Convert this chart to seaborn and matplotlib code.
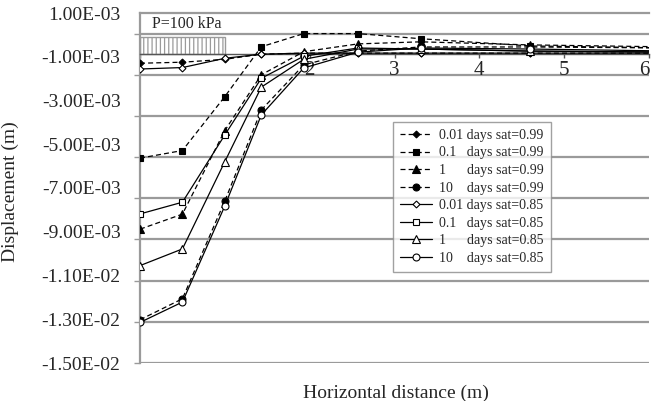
import numpy as np
import pandas as pd
import matplotlib
matplotlib.use("Agg")
import matplotlib.pyplot as plt
import seaborn as sns
from matplotlib.patches import Rectangle
from matplotlib.ticker import FuncFormatter, FixedLocator

# ---- data (displacement in m) ----
x_dist = [0.0, 0.5, 1.0, 1.43, 1.93, 2.57, 3.31, 4.6, 6.3]

d001_s099 = [-0.44e-3, -0.39e-3, -0.25e-3, 0.00e-3, 0.05e-3, 0.05e-3, 0.05e-3, 0.05e-3, 0.05e-3]
d01_s099 = [-5.05e-3, -4.68e-3, -2.06e-3, 0.36e-3, 1.00e-3, 1.00e-3, 0.75e-3, 0.40e-3, 0.30e-3]
d1_s099 = [-8.50e-3, -7.77e-3, -3.71e-3, -1.00e-3, 0.12e-3, 0.50e-3, 0.60e-3, 0.45e-3, 0.35e-3]
d10_s099 = [-12.90e-3, -11.88e-3, -7.13e-3, -2.71e-3, -0.52e-3, 0.15e-3, 0.35e-3, 0.35e-3, 0.30e-3]
d001_s085 = [-0.72e-3, -0.65e-3, -0.20e-3, 0.00e-3, 0.05e-3, 0.05e-3, 0.05e-3, 0.05e-3, 0.05e-3]
d01_s085 = [-7.76e-3, -7.19e-3, -3.92e-3, -1.17e-3, -0.10e-3, 0.30e-3, 0.25e-3, 0.15e-3, 0.10e-3]
d1_s085 = [-10.27e-3, -9.46e-3, -5.22e-3, -1.60e-3, -0.25e-3, 0.25e-3, 0.25e-3, 0.15e-3, 0.10e-3]
d10_s085 = [-13.03e-3, -12.04e-3, -7.37e-3, -2.95e-3, -0.67e-3, 0.10e-3, 0.30e-3, 0.25e-3, 0.15e-3]

series_labels = [
    "0.01 days sat=0.99", "0.1   days sat=0.99", "1      days sat=0.99", "10    days sat=0.99",
    "0.01 days sat=0.85", "0.1   days sat=0.85", "1      days sat=0.85", "10    days sat=0.85",
]
series_values = [d001_s099, d01_s099, d1_s099, d10_s099,
                 d001_s085, d01_s085, d1_s085, d10_s085]

y_ticks = [1e-3, -1e-3, -3e-3, -5e-3, -7e-3, -9e-3, -11e-3, -13e-3, -15e-3]
x_ticks = [0, 1, 2, 3, 4, 5, 6]
x_tick_labels = ["", "", "2", "3", "4", "5", "6"]

load_width = 1.0
load_height = 0.83e-3
load_text = "P=100 kPa"

# ---- styling ----
sns.set_style("white")
plt.rcParams['font.family'] = ['Liberation Serif', 'DejaVu Serif']
plt.rcParams['hatch.color'] = '#9a9a9a'
plt.rcParams['hatch.linewidth'] = 0.9

dash = (0, (4, 2.5))
styles = [
    dict(linestyle=dash, marker='D', mfc='black', ms=3.5),
    dict(linestyle=dash, marker='s', mfc='black', ms=5),
    dict(linestyle=dash, marker='^', mfc='black', ms=5.5),
    dict(linestyle=dash, marker='o', mfc='black', ms=5),
    dict(linestyle='-', marker='D', mfc='white', ms=3.5),
    dict(linestyle='-', marker='s', mfc='white', ms=5),
    dict(linestyle='-', marker='^', mfc='white', ms=5.5),
    dict(linestyle='-', marker='o', mfc='white', ms=5),
]

fig = plt.figure(figsize=(6.54, 4.01), dpi=100)
rect = [140 / 654, 38 / 401, 509 / 654, 350 / 401]

# axis that only carries the printed y tick labels (as placed in the reference)
ax_lab = fig.add_axes(rect, zorder=0)
ax_lab.set_ylim(-0.015, 0.001)
ax_lab.set_xlim(0, 1)
ax_lab.patch.set_visible(False)
for s in ax_lab.spines.values():
    s.set_visible(False)
ax_lab.set_xticks([])
ax_lab.yaxis.set_major_locator(FixedLocator(y_ticks))
ax_lab.yaxis.set_major_formatter(FuncFormatter(lambda v, p: f"{v:.2E}"))
ax_lab.tick_params(axis='y', length=0, labelsize=14, pad=14)

ax = fig.add_axes(rect, zorder=1)
ax.patch.set_visible(False)

grid_c = '#9a9a9a'
for yv in y_ticks:
    ax.axhline(yv, color=grid_c, lw=1.6, zorder=0)

for lab, vals, st in zip(series_labels, series_values, styles):
    df = pd.DataFrame({"x": x_dist, "y": vals})
    sns.lineplot(data=df, x="x", y="y", ax=ax, color='black', lw=0.9,
                 linestyle=st['linestyle'], marker=st['marker'],
                 markerfacecolor=st['mfc'], markeredgecolor='black',
                 markeredgewidth=0.8, markersize=st['ms'], label=lab,
                 zorder=3, clip_on=True)

# load box
ax.add_patch(Rectangle((0, 0), load_width, load_height, facecolor='white',
                       edgecolor='#9a9a9a', hatch='||||', lw=1.0, zorder=1))
ax.text(0.14, 1.47e-3, load_text, fontsize=11.5, va='center', ha='left')

ax.set_xlim(0, 6)
ax.set_ylim(-0.015, 0.002)

ax.yaxis.set_major_locator(FixedLocator(y_ticks))
ax.yaxis.set_major_formatter(FuncFormatter(lambda v, p: ""))
ax.set_xticks(x_ticks)
ax.set_xticklabels(x_tick_labels)

ax.spines['right'].set_visible(False)
ax.spines['bottom'].set_position(('data', 0))
ax.spines['bottom'].set_color('#555555')
ax.spines['bottom'].set_linewidth(1.0)
ax.spines['left'].set_color(grid_c)
ax.spines['left'].set_linewidth(1.6)
ax.spines['top'].set_color(grid_c)
ax.spines['top'].set_linewidth(1.6)

ax.tick_params(axis='y', direction='out', length=4, width=1, color=grid_c,
               labelsize=14, left=True)
ax.tick_params(axis='x', direction='out', length=3, width=1, color='#555555',
               labelsize=15, pad=2, bottom=True)

ax.set_xlabel("Horizontal distance (m)", fontsize=14)
ax.set_ylabel("Displacement (m)", fontsize=14)
ax.xaxis.set_label_coords(0.503, -0.063)
ax.yaxis.set_label_coords(-0.238, 0.49)

leg = ax.legend(loc='upper left', bbox_to_anchor=(0.497, 0.689), fontsize=10,
                frameon=True, fancybox=False, edgecolor='#8a8a8a',
                handlelength=2.3, handletextpad=0.5, labelspacing=0.33,
                borderpad=0.5, borderaxespad=0)
leg.get_frame().set_linewidth(1.0)
leg.set_zorder(5)

fig.canvas.draw()
ax.xaxis.get_major_ticks()[-1].label1.set_horizontalalignment('right')

fig.savefig("out.png", dpi=100)
